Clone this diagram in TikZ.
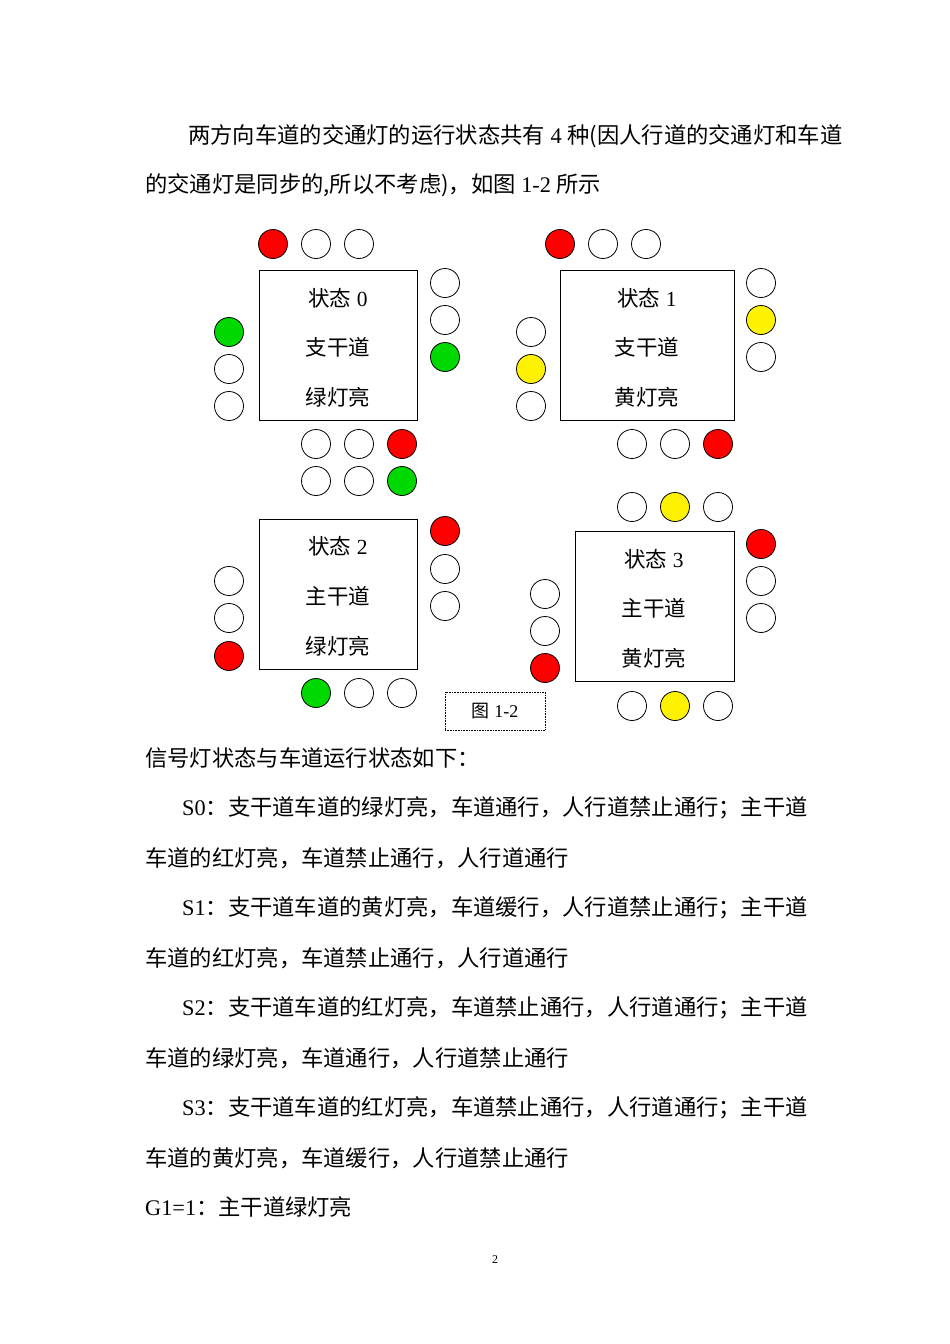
\documentclass[tikz,border=0pt]{standalone}
\usepackage{fontspec}
\setmainfont{Liberation Serif}
\newfontfamily\cjk{Noto Sans CJK SC}
\newcommand{\zh}[1]{{\cjk #1}}
\begin{document}
\begin{tikzpicture}[x=1pt,y=-1pt,
  lt/.style={circle,draw,line width=0.8pt,minimum size=29pt,inner sep=0pt},
  R/.style={lt,fill=red}, G/.style={lt,fill=green!85!black}, Y/.style={lt,fill=yellow},
  sbox/.style={draw,line width=0.8pt,minimum width=158pt,minimum height=150pt,anchor=north west},
  txt/.style={anchor=west,inner sep=0pt,font=\fontsize{22.3pt}{26pt}\selectfont},
  btxt/.style={inner sep=0pt,font=\fontsize{21.5pt}{24pt}\selectfont}]
\useasboundingbox (0,0) rectangle (950,1344);
\fill[white] (0,0) rectangle (950,1344);
% paragraph
\node[txt] (l1) at (188,136) {\zh{两方向车道的交通灯的运行状态共有} 4 \zh{种(因人行道的交通灯和车道}};
\node[txt] (l2) at (145,185) {\zh{的交通灯是同步的,所以不考虑)，如图} 1-2 \zh{所示}};
% state 0
\node[sbox] (b0) at (259,270) {};
\node[btxt] (t0a) at (338,298) {\zh{状态} 0};
\node[btxt] (t0b) at (338,347) {\zh{支干道}};
\node[btxt] (t0c) at (338,397) {\zh{绿灯亮}};
\node[R] (a1) at (273,244) {}; \node[lt] (a2) at (316,244) {}; \node[lt] (a3) at (359,244) {};
\node[lt] (a4) at (445,283) {}; \node[lt] (a5) at (445,320) {}; \node[G] (a6) at (445,357) {};
\node[G] (a7) at (229,332) {}; \node[lt] (a8) at (229,369) {}; \node[lt] (a9) at (229,406) {};
\node[lt] (a10) at (316,444) {}; \node[lt] (a11) at (359,444) {}; \node[R] (a12) at (402,444) {};
% state 2 top row
\node[lt] (c0a) at (316,481) {}; \node[lt] (c0b) at (359,481) {}; \node[G] (c0c) at (402,481) {};
% state 1
\node[sbox,minimum width=174pt] (b1) at (560,270) {};
\node[btxt] (t1a) at (647,298) {\zh{状态} 1};
\node[btxt] (t1b) at (647,347) {\zh{支干道}};
\node[btxt] (t1c) at (647,397) {\zh{黄灯亮}};
\node[R] (d1) at (560,244) {}; \node[lt] (d2) at (603,244) {}; \node[lt] (d3) at (646,244) {};
\node[lt] (d4) at (761,283) {}; \node[Y] (d5) at (761,320) {}; \node[lt] (d6) at (761,357) {};
\node[lt] (d7) at (531,332) {}; \node[Y] (d8) at (531,369) {}; \node[lt] (d9) at (531,406) {};
\node[lt] (d10) at (632,444) {}; \node[lt] (d11) at (675,444) {}; \node[R] (d12) at (718,444) {};
% state 2
\node[sbox] (b2) at (259,519) {};
\node[btxt] (t2a) at (338,546) {\zh{状态} 2};
\node[btxt] (t2b) at (338,596) {\zh{主干道}};
\node[btxt] (t2c) at (338,646) {\zh{绿灯亮}};
\node[R] (e1) at (445,531) {}; \node[lt] (e2) at (445,569) {}; \node[lt] (e3) at (445,606) {};
\node[lt] (e4) at (229,581) {}; \node[lt] (e5) at (229,618) {}; \node[R] (e6) at (229,656) {};
\node[G] (e7) at (316,693) {}; \node[lt] (e8) at (359,693) {}; \node[lt] (e9) at (402,693) {};
% state 3
\node[sbox,minimum width=159pt] (b3) at (575,531) {};
\node[btxt] (t3a) at (654,559) {\zh{状态} 3};
\node[btxt] (t3b) at (654,608) {\zh{主干道}};
\node[btxt] (t3c) at (654,658) {\zh{黄灯亮}};
\node[lt] (f1) at (632,507) {}; \node[Y] (f2) at (675,507) {}; \node[lt] (f3) at (718,507) {};
\node[R] (f4) at (761,544) {}; \node[lt] (f5) at (761,581) {}; \node[lt] (f6) at (761,618) {};
\node[lt] (f7) at (545,594) {}; \node[lt] (f8) at (545,631) {}; \node[R] (f9) at (545,668) {};
\node[lt] (f10) at (632,706) {}; \node[Y] (f11) at (675,706) {}; \node[lt] (f12) at (718,706) {};
% caption
\node[draw,densely dotted,line width=0.6pt,minimum width=100pt,minimum height=38pt,font=\fontsize{18pt}{20pt}\selectfont] (cap) at (495,711) {\zh{图} 1-2};
% text below
\node[txt] (m1) at (145,758) {\zh{信号灯状态与车道运行状态如下：}};
\node[txt] (m2) at (182,808) {S0\zh{：支干道车道的绿灯亮，车道通行，人行道禁止通行；主干道}};
\node[txt] (m3) at (145,858) {\zh{车道的红灯亮，车道禁止通行，人行道通行}};
\node[txt] (m4) at (182,908) {S1\zh{：支干道车道的黄灯亮，车道缓行，人行道禁止通行；主干道}};
\node[txt] (m5) at (145,958) {\zh{车道的红灯亮，车道禁止通行，人行道通行}};
\node[txt] (m6) at (182,1008) {S2\zh{：支干道车道的红灯亮，车道禁止通行，人行道通行；主干道}};
\node[txt] (m7) at (145,1058) {\zh{车道的绿灯亮，车道通行，人行道禁止通行}};
\node[txt] (m8) at (182,1108) {S3\zh{：支干道车道的红灯亮，车道禁止通行，人行道通行；主干道}};
\node[txt] (m9) at (145,1158) {\zh{车道的黄灯亮，车道缓行，人行道禁止通行}};
\node[txt] (m10) at (145,1207) {G1=1\zh{：主干道绿灯亮}};
\node[font=\fontsize{12pt}{14pt}\selectfont] (pg) at (495,1260) {2};
\end{tikzpicture}
\end{document}
